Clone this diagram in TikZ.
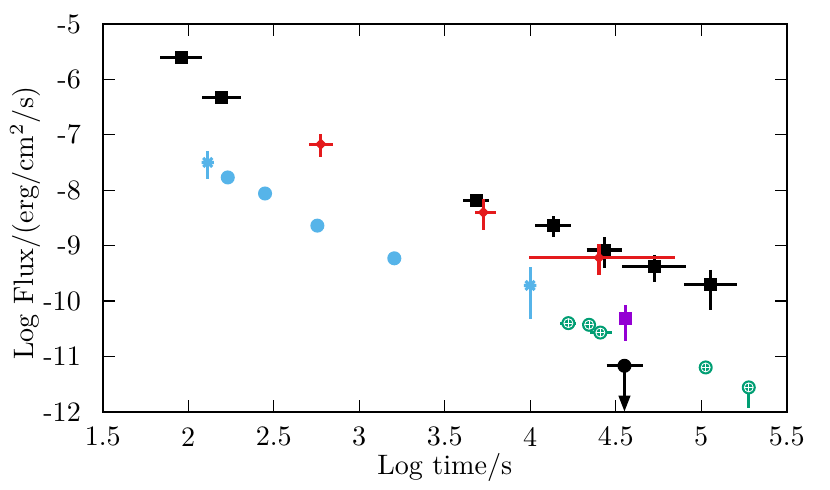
\documentclass[tikz,border=0pt]{standalone}
\usetikzlibrary{arrows.meta,shapes.geometric}

\definecolor{skyblue}{HTML}{56B4E9}
\definecolor{fluxred}{RGB}{228,26,28}
\definecolor{bluegreen}{HTML}{009E73}
\definecolor{violet}{HTML}{9400D3}

\tikzset{
  frame/.style={line width=0.7pt},
  tick/.style={line width=0.45pt},
  errbar/.style={line width=1.1pt},
  sqmark/.style={rectangle, fill, inner sep=0pt, minimum size=4.6pt},
  dotmark/.style={circle, fill, inner sep=0pt, minimum size=5pt},
  discmark/.style={circle, fill=skyblue, inner sep=0pt, minimum size=5pt},
  diamark/.style={diamond, fill=fluxred, inner sep=0pt, minimum size=4.2pt},
  plusmark/.style={circle, fill=bluegreen, draw=white, line width=0.3pt,
    inner sep=0pt, minimum size=3.2pt,
    path picture={\draw[white, line width=0.3pt]
      (path picture bounding box.west) -- (path picture bounding box.east)
      (path picture bounding box.north) -- (path picture bounding box.south);}},
  outer/.style={circle, fill=bluegreen, inner sep=0pt, minimum size=5pt},
}

\begin{document}
\begin{tikzpicture}[x=2.1375cm, y=0.6925cm, >={Triangle[length=5.7pt,width=4pt]}]
\useasboundingbox (0.899,-13.395) rectangle (5.753,-4.567);

%%%%%%%%%%%% Frame, ticks and labels
\draw[frame] (1.5,-12) rectangle (5.5,-5);
\foreach \x in {1.5,2,2.5,3,3.5,4,4.5,5,5.5} {
  \draw[tick] (\x,-12) -- +(0,0.15cm);
  \draw[tick] (\x,-5) -- +(0,-0.15cm);
  \node (xt-\x) at (\x,-12.45) {\x};
}
\foreach \y in {-12,...,-5} {
  \draw[tick] (1.5,\y) -- +(0.15cm,0);
  \draw[tick] (5.5,\y) -- +(-0.15cm,0);
  \node[anchor=east] (yt\y) at (1.43,\y) {\y};
}
\node (xlabel) at (3.5,-13.0) {Log time/s};
\node[rotate=90] (ylabel) at (1.046,-8.6) {Log Flux/(erg/cm$^2$/s)};

%%%%%%%%%%%% Black squares
\foreach \x/\y/\xa/\xb/\ya/\yb [count=\n] in {
    1.962/-5.60/1.835/2.081/-5.55/-5.65,
    2.192/-6.33/2.082/2.307/-6.29/-6.37,
    3.685/-8.18/3.609/3.761/-8.15/-8.22,
    4.135/-8.64/4.028/4.239/-8.47/-8.84,
    4.433/-9.08/4.330/4.535/-8.85/-9.41,
    4.726/-9.37/4.539/4.909/-9.17/-9.66,
    5.056/-9.70/4.898/5.211/-9.44/-10.16} {
  \draw[errbar] (\xa,\y) -- (\xb,\y) (\x,\ya) -- (\x,\yb);
  \node[sqmark] (sq\n) at (\x,\y) {};
}

%%%%%%%%%%%% Blue points
\foreach \x/\y [count=\n] in {2.231/-7.77, 2.449/-8.06, 2.755/-8.64, 3.205/-9.23}
  \node[discmark] (disc\n) at (\x,\y) {};
\foreach \x/\y/\ya/\yb [count=\n] in {2.114/-7.50/-7.29/-7.80, 3.999/-9.72/-9.39/-10.32} {
  \draw[errbar, skyblue] (\x,\ya) -- (\x,\yb);
  \draw[errbar, skyblue] (\x,\y) +(-2.2pt,0) -- +(2.2pt,0)
    +(-1.6pt,-1.6pt) -- +(1.6pt,1.6pt) +(-1.6pt,1.6pt) -- +(1.6pt,-1.6pt);
  \coordinate (star\n) at (\x,\y);
}

%%%%%%%%%%%% Red points
\foreach \x/\y/\xa/\xb/\ya/\yb [count=\n] in {
    2.775/-7.17/2.708/2.849/-6.99/-7.41,
    3.726/-8.40/3.677/3.800/-8.16/-8.72,
    4.402/-9.22/3.995/4.849/-8.97/-9.54} {
  \draw[errbar, fluxred] (\xa,\y) -- (\xb,\y) (\x,\ya) -- (\x,\yb);
  \node[diamark] (dia\n) at (\x,\y) {};
}

%%%%%%%%%%%% Green points
\foreach \x/\y/\xa/\xb/\ya/\yb [count=\n] in {
    4.223/-10.40/4.174/4.270/-10.40/-10.40,
    4.344/-10.43/4.300/4.380/-10.43/-10.43,
    4.410/-10.57/4.350/4.480/-10.57/-10.57,
    5.026/-11.20/5.026/5.026/-11.20/-11.20,
    5.278/-11.56/5.278/5.278/-11.46/-11.94} {
  \draw[errbar, bluegreen] (\xa,\y) -- (\xb,\y) (\x,\ya) -- (\x,\yb);
  \node[outer] (ring\n) at (\x,\y) {};
  \node[plusmark] (gr\n) at (\x,\y) {};
}

%%%%%%%%%%%% Violet point
\draw[errbar, violet] (4.559,-10.08) -- (4.559,-10.72);
\node[sqmark, fill=violet] (vio) at (4.559,-10.31) {};

%%%%%%%%%%%% Upper limit
\coordinate (lim-end) at (4.551,-12);
\draw[errbar] (4.447,-11.17) -- (4.658,-11.17);
\node[dotmark] (lim) at (4.551,-11.17) {};
\draw[errbar, ->] (lim.center) -- (lim-end);
\end{tikzpicture}
\end{document}
